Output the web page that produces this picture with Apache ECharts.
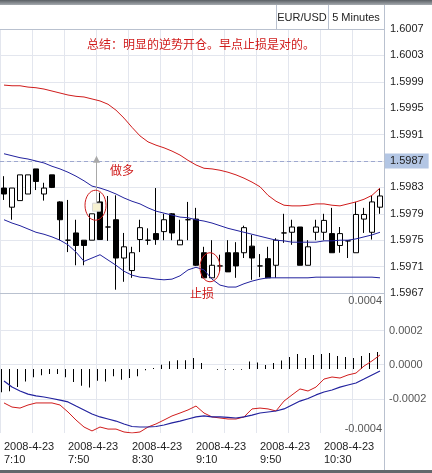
<!DOCTYPE html>
<html><head><meta charset="utf-8">
<script src="https://cdn.jsdelivr.net/npm/echarts@6/dist/echarts.min.js"></script>
<style>html,body{margin:0;padding:0;background:#fff}#c{width:432px;height:473px}</style>
</head><body><div id="c"></div>
<script>
const symbolName = 'EUR/USD';
const periodName = '5 Minutes';
const titleText = '总结：明显的逆势开仓。早点止损是对的。';
const dateText = '2008-4-23';
const times = ['7:10','7:15','7:20','7:25','7:30','7:35','7:40','7:45','7:50','7:55',
 '8:00','8:05','8:10','8:15','8:20','8:25','8:30','8:35','8:40','8:45','8:50','8:55',
 '9:00','9:05','9:10','9:15','9:20','9:25','9:30','9:35','9:40','9:45','9:50','9:55',
 '10:00','10:05','10:10','10:15','10:20','10:25','10:30','10:35','10:40','10:45','10:50','10:55',
 '11:00','11:05'];
const opens = [1.59829,1.59800,1.59810,1.59820,1.59858,1.59820,1.59849,1.59808,1.59750,1.59761,1.59750,1.59750,1.59808,1.59770,1.59781,1.59723,1.59704,1.59751,1.59750,1.59760,1.59763,1.59790,1.59743,1.59781,1.59782,1.59731,1.59693,1.59711,1.59731,1.59731,1.59731,1.59741,1.59711,1.59722,1.59712,1.59761,1.59762,1.59770,1.59712,1.59762,1.59762,1.59760,1.59742,1.59749,1.59731,1.59782,1.59762,1.59800];
const closes = [1.59820,1.59829,1.59849,1.59849,1.59839,1.59829,1.59830,1.59781,1.59750,1.59742,1.59742,1.59790,1.59751,1.59770,1.59723,1.59740,1.59731,1.59769,1.59750,1.59751,1.59781,1.59761,1.59750,1.59781,1.59712,1.59693,1.59712,1.59711,1.59702,1.59711,1.59769,1.59723,1.59711,1.59693,1.59750,1.59761,1.59770,1.59712,1.59740,1.59770,1.59780,1.59731,1.59760,1.59749,1.59789,1.59789,1.59808,1.59817];
const lows = [1.59811,1.59781,1.59810,1.59820,1.59826,1.59810,1.59829,1.59750,1.59732,1.59712,1.59712,1.59750,1.59751,1.59749,1.59675,1.59687,1.59693,1.59732,1.59743,1.59743,1.59750,1.59750,1.59743,1.59750,1.59711,1.59693,1.59693,1.59703,1.59702,1.59693,1.59723,1.59690,1.59694,1.59693,1.59693,1.59746,1.59743,1.59712,1.59712,1.59750,1.59750,1.59731,1.59731,1.59723,1.59731,1.59761,1.59751,1.59790];
const highs = [1.59847,1.59829,1.59849,1.59849,1.59858,1.59837,1.59849,1.59809,1.59811,1.59781,1.59750,1.59790,1.59822,1.59817,1.59818,1.59761,1.59740,1.59781,1.59768,1.59829,1.59790,1.59791,1.59781,1.59808,1.59799,1.59740,1.59750,1.59728,1.59750,1.59747,1.59772,1.59758,1.59729,1.59740,1.59753,1.59790,1.59781,1.59770,1.59750,1.59781,1.59790,1.59799,1.59770,1.59750,1.59808,1.59799,1.59817,1.59829];
const bollUpper = [1.59985,1.59984,1.59984,1.59982,1.59981,1.59979,1.59976,1.59973,1.59970,1.59968,1.59967,1.59964,1.59961,1.59956,1.59947,1.59935,1.59921,1.59908,1.59899,1.59894,1.59890,1.59885,1.59879,1.59871,1.59864,1.59859,1.59858,1.59856,1.59853,1.59849,1.59844,1.59838,1.59831,1.59818,1.59809,1.59803,1.59802,1.59802,1.59803,1.59805,1.59805,1.59803,1.59802,1.59805,1.59808,1.59812,1.59818,1.59829];
const bollMiddle = [1.59881,1.59878,1.59875,1.59873,1.59870,1.59867,1.59862,1.59858,1.59853,1.59847,1.59840,1.59832,1.59829,1.59825,1.59820,1.59814,1.59809,1.59805,1.59799,1.59794,1.59791,1.59788,1.59785,1.59784,1.59781,1.59779,1.59776,1.59772,1.59768,1.59765,1.59762,1.59759,1.59756,1.59753,1.59750,1.59749,1.59747,1.59747,1.59747,1.59747,1.59749,1.59749,1.59750,1.59750,1.59752,1.59755,1.59758,1.59762];
const bollLower = [1.59781,1.59776,1.59772,1.59767,1.59762,1.59759,1.59755,1.59750,1.59743,1.59732,1.59718,1.59723,1.59728,1.59720,1.59712,1.59703,1.59697,1.59694,1.59693,1.59691,1.59690,1.59691,1.59696,1.59705,1.59709,1.59705,1.59691,1.59682,1.59679,1.59679,1.59684,1.59688,1.59691,1.59693,1.59693,1.59693,1.59693,1.59693,1.59693,1.59694,1.59694,1.59694,1.59694,1.59694,1.59694,1.59694,1.59694,1.59693];
const macdHist = [-0.000137,-0.000131,-0.000105,-0.000073,-0.000049,-0.000037,-0.000029,-0.000029,-0.000049,-0.000076,-0.000098,-0.000108,-0.000069,-0.000073,-0.000043,-0.000063,-0.000053,-0.000043,-0.000008,0.000006,0.000025,0.000045,0.000051,0.000051,0.000064,0.000035,0,-0.000004,-0.000004,-0.000004,-0.000004,0.000044,0.000038,0.000023,0.000035,0.000050,0.000070,0.000088,0.000064,0.000082,0.000088,0.000094,0.000076,0.000070,0.000064,0.000076,0.000094,0.000100];
const macdLine = [-0.000224,-0.000248,-0.000254,-0.000236,-0.000224,-0.000224,-0.000224,-0.000236,-0.000277,-0.000324,-0.000365,-0.000388,-0.000365,-0.000377,-0.000377,-0.000394,-0.000400,-0.000394,-0.000365,-0.000347,-0.000324,-0.000300,-0.000283,-0.000265,-0.000242,-0.000283,-0.000306,-0.000312,-0.000318,-0.000318,-0.000306,-0.000259,-0.000254,-0.000259,-0.000271,-0.000213,-0.000177,-0.000142,-0.000154,-0.000131,-0.000084,-0.000072,-0.000078,-0.000060,-0.000049,-0.000008,0.000022,0.000057];
const signalLine = [-0.000096,-0.000131,-0.000154,-0.000172,-0.000183,-0.000189,-0.000198,-0.000207,-0.000218,-0.000242,-0.000265,-0.000289,-0.000306,-0.000318,-0.000330,-0.000347,-0.000362,-0.000365,-0.000365,-0.000362,-0.000353,-0.000341,-0.000330,-0.000318,-0.000306,-0.000300,-0.000306,-0.000306,-0.000309,-0.000312,-0.000306,-0.000295,-0.000283,-0.000277,-0.000271,-0.000259,-0.000236,-0.000213,-0.000198,-0.000177,-0.000160,-0.000148,-0.000131,-0.000119,-0.000107,-0.000084,-0.000060,-0.000037];
const lastPrice = 1.5987;
const priceTicks = {min: 1.5967, max: 1.6007, step: 0.0004};
const macdTicks = {min: -0.0004, max: 0.00042, step: 0.0002};
const macdGridValues = [-0.0002, 0, 0.0002];
const macdEdgeLabels = ['0.0004', '-0.0004'];
// annotations: candle index + price
const entryMark = {i: 11, price: 1.59800};
const arrowTip = {i: 11, price: 1.59878};
const ellipses = [{i: 11, price: 1.59803}, {i: 26, price: 1.59709}];
const notes = [{text: '做多', i: 14, price: 1.59856}, {text: '止损', i: 25, price: 1.5967}];

const FONT = '"Liberation Sans", Arial, sans-serif';
const CJK = '"Noto Sans CJK SC", sans-serif';
const GRID_COLOR = '#e3e6ee';
const AXIS_COLOR = '#b9c1cf';
const RED = '#d01c1c';
const BLUE = '#22229e';

const candles = opens.map((o, k) => [o, closes[k], lows[k], highs[k]]);

const chart = echarts.init(document.getElementById('c'), null, {renderer: 'canvas', width: 432, height: 473});

chart.setOption({
  animation: false,
  backgroundColor: '#fff',
  textStyle: {fontFamily: FONT},
  grid: [
    {left: 0, top: 29, width: 384, height: 264},
    {left: 0, top: 293, width: 384, height: 140}
  ],
  xAxis: [
    {type: 'category', gridIndex: 0, data: times, boundaryGap: true,
     axisLine: {show: true, lineStyle: {color: AXIS_COLOR}},
     axisTick: {show: false}, axisLabel: {show: false},
     splitLine: {show: true, interval: 3, lineStyle: {color: GRID_COLOR}}},
    {type: 'category', gridIndex: 1, data: times, boundaryGap: true,
     axisLine: {show: true, lineStyle: {color: AXIS_COLOR}},
     axisTick: {show: true, interval: 7, length: 38, lineStyle: {color: GRID_COLOR}},
     axisLabel: {interval: 7, align: 'left', margin: 7, color: '#1e1e1e', fontSize: 11, lineHeight: 13,
       fontFamily: FONT, formatter: v => dateText + '\n' + v},
     splitLine: {show: true, interval: 3, lineStyle: {color: GRID_COLOR}}}
  ],
  yAxis: [
    {type: 'value', gridIndex: 0, position: 'right', min: priceTicks.min, max: priceTicks.max, interval: priceTicks.step,
     axisLine: {show: true, lineStyle: {color: AXIS_COLOR}}, axisTick: {show: false},
     splitLine: {show: true, lineStyle: {color: GRID_COLOR}},
     axisLabel: {margin: 0, fontSize: 11, color: '#222', fontFamily: FONT,
       formatter: v => { const s = v.toFixed(4); return s === lastPrice.toFixed(4) ? '{hl|' + s + '}' : '{n|' + s + '}'; },
       rich: {
         n: {padding: [0, 0, 0, 6], fontSize: 11, color: '#222', fontFamily: FONT},
         hl: {padding: [2, 5, 2, 6], fontSize: 11, color: '#222', backgroundColor: '#b3c6e4', fontFamily: FONT}
       }}},
    {type: 'value', gridIndex: 1, position: 'right', min: macdTicks.min, max: macdTicks.max, interval: macdTicks.step,
     axisLine: {show: true, lineStyle: {color: AXIS_COLOR}}, axisTick: {show: false}, splitLine: {show: false},
     axisLabel: {margin: 5, fontSize: 11, color: '#555', fontFamily: FONT,
       formatter: v => { const r = Math.round(v * 1e4) / 1e4; return Math.abs(r) > 0.00021 ? '' : (r === 0 ? 0 : r).toFixed(4); }}},
    {type: 'value', gridIndex: 1, show: false, min: -0.000375, max: 0.000445}
  ],
  series: [
    {type: 'candlestick', name: 'price', xAxisIndex: 0, yAxisIndex: 0, data: candles, barWidth: 6, z: 2,
     itemStyle: {color: '#fff', color0: '#000', borderColor: '#000', borderColor0: '#000', borderColorDoji: '#000', borderWidth: 1}},
    {type: 'line', name: 'upper', xAxisIndex: 0, yAxisIndex: 0, data: bollUpper, symbol: 'none', z: 3, silent: true,
     lineStyle: {color: RED, width: 1}},
    {type: 'line', name: 'middle', xAxisIndex: 0, yAxisIndex: 0, data: bollMiddle, symbol: 'none', z: 3, silent: true,
     lineStyle: {color: BLUE, width: 1},
     markLine: {silent: true, symbol: 'none', precision: 8, label: {show: false}, z: 1,
       lineStyle: {color: '#9ea8cf', type: [4, 3], width: 1}, data: [{yAxis: lastPrice}]}},
    {type: 'line', name: 'lower', xAxisIndex: 0, yAxisIndex: 0, data: bollLower, symbol: 'none', z: 3, silent: true,
     lineStyle: {color: BLUE, width: 1}},
    {type: 'bar', name: 'hist', xAxisIndex: 1, yAxisIndex: 2, data: macdHist, barWidth: 1, barGap: '0%', z: 2, silent: true,
     itemStyle: {color: '#000'}},
    {type: 'bar', name: 'pad', xAxisIndex: 1, yAxisIndex: 2, data: macdHist.map(() => null), barWidth: 5, barGap: '0%', silent: true,
     itemStyle: {color: 'rgba(0,0,0,0)'}},
    {type: 'line', name: 'macd', xAxisIndex: 1, yAxisIndex: 1, data: macdLine, symbol: 'none', z: 3, silent: true,
     lineStyle: {color: RED, width: 1},
     markLine: {silent: true, symbol: 'none', precision: 8, label: {show: false}, z: 1,
       lineStyle: {color: GRID_COLOR, type: 'solid', width: 1}, data: macdGridValues.map(v => ({yAxis: v}))}},
    {type: 'line', name: 'signal', xAxisIndex: 1, yAxisIndex: 1, data: signalLine, symbol: 'none', z: 3, silent: true,
     lineStyle: {color: BLUE, width: 1.2}}
  ]
});

const px = (i, price) => chart.convertToPixel({xAxisIndex: 0, yAxisIndex: 0}, [i, price]);
const g = [];
// frame
g.push({type: 'rect', shape: {x: 0, y: 0, width: 432, height: 5}, z: 50,
  style: {fill: {type: 'linear', x: 0, y: 0, x2: 0, y2: 1, colorStops: [{offset: 0, color: '#5a5f64'}, {offset: 1, color: '#a6abb0'}]}}});
g.push({type: 'line', shape: {x1: 384.5, y1: 5, x2: 384.5, y2: 471}, style: {stroke: AXIS_COLOR, lineWidth: 1}, z: 50});
g.push({type: 'line', shape: {x1: 276.5, y1: 5, x2: 276.5, y2: 29}, style: {stroke: AXIS_COLOR, lineWidth: 1}, z: 50});
g.push({type: 'line', shape: {x1: 328.5, y1: 5, x2: 328.5, y2: 29}, style: {stroke: AXIS_COLOR, lineWidth: 1}, z: 50});
g.push({type: 'line', shape: {x1: 0, y1: 29.5, x2: 384, y2: 29.5}, style: {stroke: AXIS_COLOR, lineWidth: 1}, z: 50});
g.push({type: 'rect', shape: {x: 0, y: 470, width: 432, height: 3}, style: {fill: '#63676c'}, z: 50});
g.push({type: 'text', x: 302, y: 18, z: 50, style: {text: symbolName, fill: '#222', font: '11px ' + FONT, textAlign: 'center', textVerticalAlign: 'middle'}});
g.push({type: 'text', x: 356, y: 18, z: 50, style: {text: periodName, fill: '#222', font: '11px ' + FONT, textAlign: 'center', textVerticalAlign: 'middle'}});
g.push({type: 'text', x: 201, y: 44, z: 50, style: {text: titleText, fill: RED, font: '12px ' + CJK, textAlign: 'center', textVerticalAlign: 'middle'}});
g.push({type: 'text', x: 382, y: 301, z: 50, style: {text: macdEdgeLabels[0], fill: '#555', font: '11px ' + FONT, textAlign: 'right', textVerticalAlign: 'middle'}});
g.push({type: 'text', x: 382, y: 429, z: 50, style: {text: macdEdgeLabels[1], fill: '#555', font: '11px ' + FONT, textAlign: 'right', textVerticalAlign: 'middle'}});

// annotations
const e = px(entryMark.i, entryMark.price);
const ex = e[0] + 4.5;
const tip = px(arrowTip.i, arrowTip.price);
g.push({type: 'line', shape: {x1: ex, y1: e[1] - 4, x2: ex, y2: tip[1] + 5}, style: {stroke: '#a9a9a9', lineWidth: 1}, z: 60});
g.push({type: 'polygon', shape: {points: [[ex, tip[1]], [ex - 3.5, tip[1] + 7], [ex + 3.5, tip[1] + 7]]}, style: {fill: '#a9a9a9'}, z: 60});
g.push({type: 'rect', shape: {x: ex - 4, y: e[1] - 4, width: 8, height: 8}, style: {fill: '#f7f2d2', stroke: '#d8d8d8', lineWidth: 1}, z: 60});
const ellOff = [3.5, -2];
const ellR = [[10.5, 15], [10, 14.5]];
ellipses.forEach((el, k) => {
  const p = px(el.i, el.price);
  g.push({type: 'ellipse', shape: {cx: p[0] + ellOff[k], cy: p[1], rx: ellR[k][0], ry: ellR[k][1]},
    style: {fill: 'none', stroke: RED, lineWidth: 1}, z: 60});
});
const noteOff = [6, -2];
notes.forEach((n, k) => {
  const p = px(n.i, n.price);
  g.push({type: 'text', x: p[0] + noteOff[k], y: p[1], z: 60,
    style: {text: n.text, fill: RED, font: '12px ' + CJK, textAlign: 'center', textVerticalAlign: 'middle'}});
});
chart.setOption({graphic: g});
</script>
</body></html>
